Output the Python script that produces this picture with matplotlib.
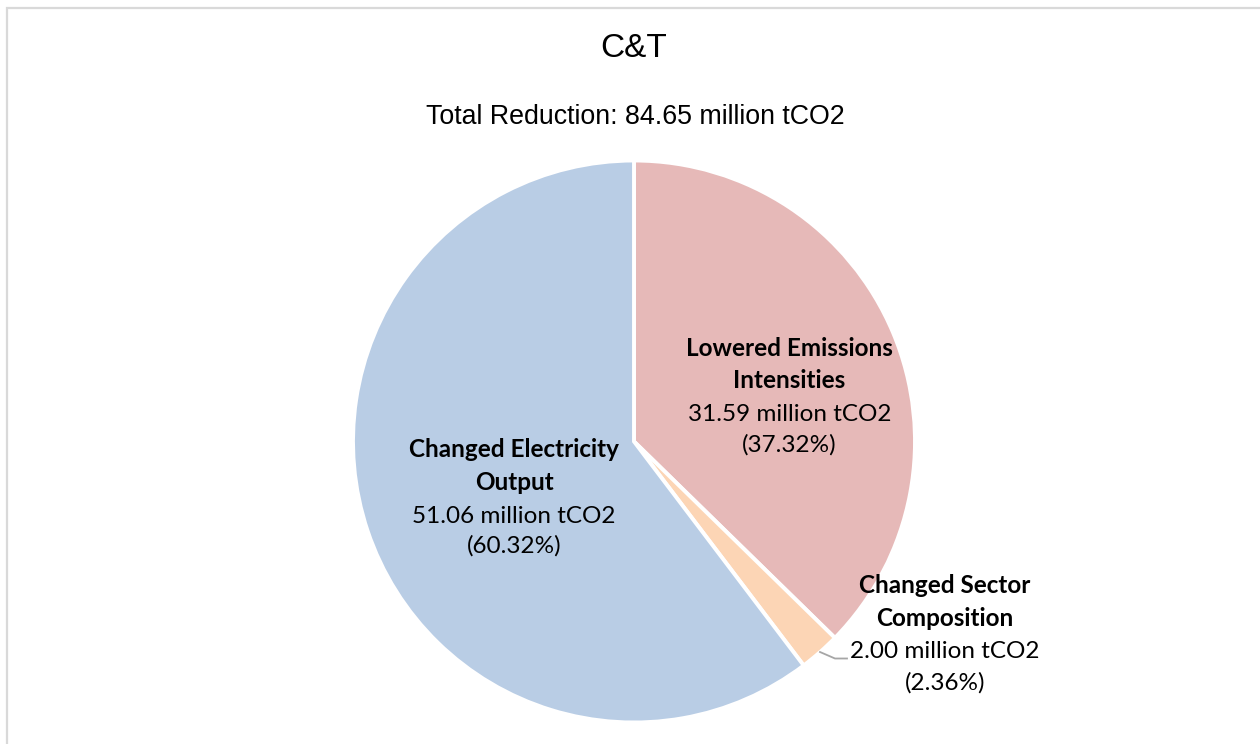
import matplotlib
matplotlib.use("Agg")
import matplotlib.pyplot as plt
from matplotlib.patches import Rectangle

# ---- data ----
title = "C&T"
subtitle = "Total Reduction: 84.65 million tCO2"
categories = ["Lowered Emissions\nIntensities", "Changed Sector\nComposition", "Changed Electricity\nOutput"]
values = [31.59, 2.00, 51.06]
percents = ["37.32%", "2.36%", "60.32%"]
colors = ["#e6b9b8", "#fcd5b5", "#b9cde5"]

W, H = 1260, 744
CX, CY, R = 634, 441.5, 281.0

fig = plt.figure(figsize=(W / 100, H / 100), dpi=100)
ax = fig.add_axes([0, 0, 1, 1])
ax.set_xlim(-CX / R, (W - CX) / R)
ax.set_ylim(-(H - CY) / R, CY / R)
ax.set_aspect("equal", adjustable="box")
ax.axis("off")

ax.pie(values, colors=colors, startangle=90, counterclock=False, radius=1.0,
       wedgeprops=dict(edgecolor="white", linewidth=2.8))
ax.set_xlim(-CX / R, (W - CX) / R)
ax.set_ylim(-(H - CY) / R, CY / R)


def P(px, py):
    return (px - CX) / R, (CY - py) / R


LAB = ["Lato", "DejaVu Sans"]
FS = 17.5
# label text per slice: centre x, baselines of the four lines (pixels)
label_pos = [(789.5, [356, 388, 421, 452]),
             (945, [593, 626, 658, 690]),
             (514, [457, 490, 523, 553])]
for cat, v, pct, (lx, bls) in zip(categories, values, percents, label_pos):
    lines = cat.split("\n")
    texts = [(lines[0], "bold"), (lines[1], "bold"),
             (f"{v:.2f} million tCO2", "normal"), (f"({pct})", "normal")]
    for (t, wgt), by in zip(texts, bls):
        x, y = P(lx, by)
        ax.text(x, y, t, ha="center", va="baseline", fontsize=FS,
                fontweight=wgt, family=LAB, color="black")

# leader line for the small slice
lx0, ly0 = P(820, 652)
lx1, ly1 = P(835, 658.5)
lx2, ly2 = P(847, 658.5)
ax.plot([lx0, lx1, lx2], [ly0, ly1, ly2], color="#a6a6a6", lw=1.3)

# title and subtitle
tx, ty = P(634, 57)
ax.text(tx, ty, title, ha="center", va="baseline", fontsize=24,
        family=["Liberation Sans", "DejaVu Sans"])
sx, sy = P(635, 124)
ax.text(sx, sy, subtitle, ha="center", va="baseline", fontsize=19.3,
        family=["Liberation Sans", "DejaVu Sans"])

# outer frame
fig.patches.append(Rectangle((7 / W, -0.05), 1.2, 1 - 8 / H + 0.05,
                             transform=fig.transFigure, fill=False,
                             edgecolor="#d9d9d9", linewidth=1.6))

fig.savefig("out.png", dpi=100)
